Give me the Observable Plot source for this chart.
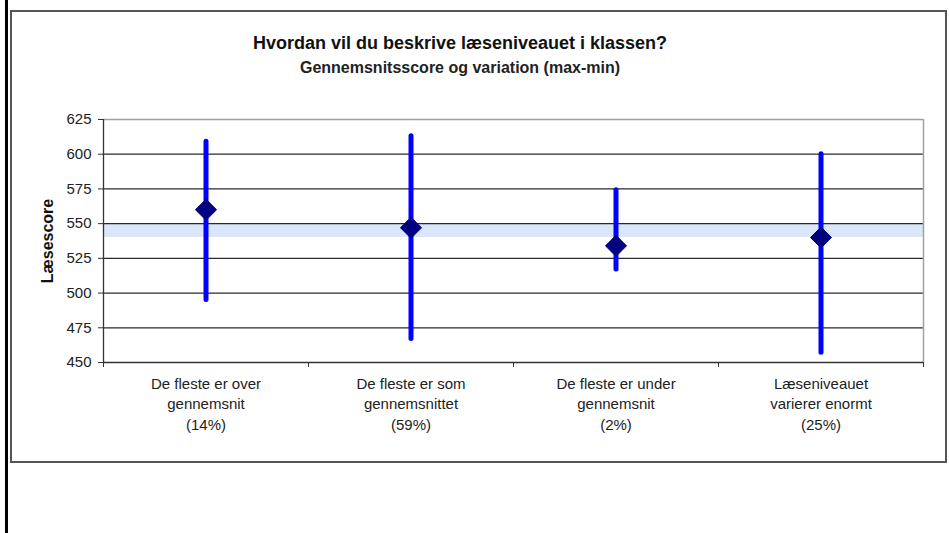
<!DOCTYPE html>
<html>
<head>
<meta charset="utf-8">
<script src="https://cdn.jsdelivr.net/npm/d3@7"></script>
<script src="https://cdn.jsdelivr.net/npm/@observablehq/plot@0.6"></script>
<style>
  html, body { margin: 0; padding: 0; background: #fff; }
  #wrap { position: relative; width: 949px; height: 533px; overflow: hidden; font-family: "Liberation Sans", Arial, sans-serif; }
  #wrap svg { position: absolute; left: 0; top: 0; }
  .leftbar { position: absolute; left: 5px; top: 0; width: 3px; height: 533px; background: #000; }
  .box { position: absolute; left: 10px; top: 10px; width: 933px; height: 449px; border: 2px solid #555; }
  .title { position: absolute; left: 0; width: 920px; text-align: center; font-weight: bold; color: #111; }
  #t1 { top: 33px; font-size: 18px; }
  #t2 { top: 59px; font-size: 16px; color: #222; }
</style>
</head>
<body>
<div id="wrap">
  <div class="leftbar"></div>
  <div class="box"></div>
  <div class="title" id="t1"></div>
  <div class="title" id="t2"></div>
</div>
<script>
const titleText = "Hvordan vil du beskrive læseniveauet i klassen?";
const subtitleText = "Gennemsnitsscore og variation (max-min)";
const yLabel = "Læsescore";

const categories = [
  "De fleste er over\ngennemsnit",
  "De fleste er som\ngennemsnittet",
  "De fleste er under\ngennemsnit",
  "Læseniveauet\nvarierer enormt"
];
const shares = ["14%", "59%", "2%", "25%"];
const means = [560, 547, 534, 540];
const maxs  = [609, 613, 574, 600];
const mins  = [495, 467, 517, 457];

const yTicks = [450, 475, 500, 525, 550, 575, 600, 625];
const gridTicks = [475, 500, 525, 550, 575, 600];
const avgBand = [540, 549.5];

document.getElementById("t1").textContent = titleText;
document.getElementById("t2").textContent = subtitleText;

const data = categories.map((c, i) => ({
  i, label: c + "\n(" + shares[i] + ")", mean: means[i], max: maxs[i], min: mins[i]
}));
const n = categories.length;
const bounds = d3.range(n + 1);

const chart = Plot.plot({
  width: 949,
  height: 533,
  marginLeft: 103,
  marginRight: 26,
  marginTop: 119,
  marginBottom: 171,
  style: { fontFamily: "Liberation Sans, Arial, sans-serif", background: "transparent", color: "#222" },
  x: { domain: [0, n] },
  y: { domain: [450, 625] },
  marks: [
    Plot.rect([avgBand], { x1: () => 0, x2: () => n, y1: d => d[0], y2: d => d[1], fill: "#dae7fb" }),
    Plot.ruleY(gridTicks, { stroke: "#2a2a2a", strokeWidth: 1.2 }),
    Plot.ruleY([625], { stroke: "#a0a0a0", strokeWidth: 1.5 }),
    Plot.ruleX([n], { stroke: "#a0a0a0", strokeWidth: 1.5 }),
    Plot.ruleX([0], { stroke: "#333", strokeWidth: 1.3 }),
    Plot.ruleY([450], { stroke: "#333", strokeWidth: 1.3 }),
    Plot.axisY({ ticks: yTicks, tickSize: 5, tickPadding: 7, label: null, fontSize: 15, stroke: "#333" }),
    Plot.axisX({ ticks: bounds, tickSize: 5, tickFormat: () => "", label: null, stroke: "#333" }),
    Plot.text(data, {
      x: d => d.i + 0.5, text: "label", frameAnchor: "bottom", lineAnchor: "top",
      dy: 12, lineHeight: 1.36, fontSize: 15, fill: "#222"
    }),
    Plot.ruleX(data, { x: d => d.i + 0.5, y1: "min", y2: "max", stroke: "#0000ff", strokeWidth: 5, strokeLinecap: "round" }),
    Plot.dot(data, { x: d => d.i + 0.5, y: "mean", symbol: "diamond2", r: 9.5, fill: "#000080", stroke: "#000080", strokeWidth: 1 }),
    Plot.text([yLabel], { text: d => d, frameAnchor: "left", textAnchor: "middle", dx: -56, rotate: -90, fontWeight: "bold", fontSize: 16, fill: "#111" })
  ]
});
document.getElementById("wrap").appendChild(chart);
</script>
</body>
</html>
